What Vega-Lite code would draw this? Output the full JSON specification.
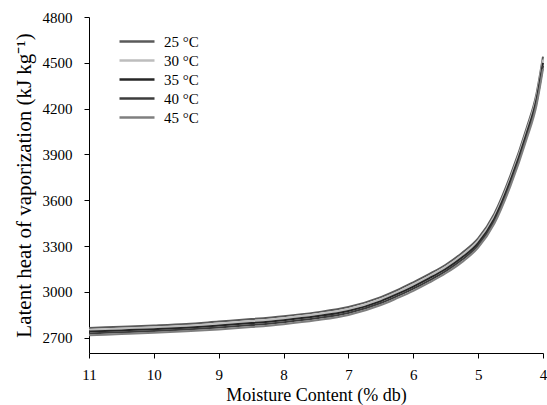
{
  "$schema": "https://vega.github.io/schema/vega-lite/v6.json",
  "width": 454,
  "height": 336,
  "autosize": "none",
  "padding": {"left": 89, "top": 17, "right": 4, "bottom": 52},
  "background": "white",
  "config": {
    "font": "Liberation Serif",
    "view": {"stroke": null},
    "axis": {"grid": false, "domainColor": "#000", "tickColor": "#000", "labelColor": "#000", "titleColor": "#000", "labelFont": "Liberation Serif", "titleFont": "Liberation Serif", "titleFontWeight": "normal", "labelFontSize": 15, "titleFontSize": 17}
  },
  "data": {"values": [
    {"m": 11, "T": "25 °C", "L": 2764}, {"m": 11, "T": "30 °C", "L": 2752}, {"m": 11, "T": "35 °C", "L": 2740}, {"m": 11, "T": "40 °C", "L": 2728}, {"m": 11, "T": "45 °C", "L": 2716},
    {"m": 10.5, "T": "25 °C", "L": 2772}, {"m": 10.5, "T": "30 °C", "L": 2760}, {"m": 10.5, "T": "35 °C", "L": 2748}, {"m": 10.5, "T": "40 °C", "L": 2736}, {"m": 10.5, "T": "45 °C", "L": 2724},
    {"m": 10, "T": "25 °C", "L": 2780}, {"m": 10, "T": "30 °C", "L": 2768}, {"m": 10, "T": "35 °C", "L": 2756}, {"m": 10, "T": "40 °C", "L": 2744}, {"m": 10, "T": "45 °C", "L": 2732},
    {"m": 9.5, "T": "25 °C", "L": 2790}, {"m": 9.5, "T": "30 °C", "L": 2778}, {"m": 9.5, "T": "35 °C", "L": 2766}, {"m": 9.5, "T": "40 °C", "L": 2754}, {"m": 9.5, "T": "45 °C", "L": 2742},
    {"m": 9, "T": "25 °C", "L": 2806}, {"m": 9, "T": "30 °C", "L": 2793}, {"m": 9, "T": "35 °C", "L": 2780}, {"m": 9, "T": "40 °C", "L": 2767}, {"m": 9, "T": "45 °C", "L": 2754},
    {"m": 8.5, "T": "25 °C", "L": 2822}, {"m": 8.5, "T": "30 °C", "L": 2809}, {"m": 8.5, "T": "35 °C", "L": 2796}, {"m": 8.5, "T": "40 °C", "L": 2783}, {"m": 8.5, "T": "45 °C", "L": 2770},
    {"m": 8, "T": "25 °C", "L": 2841}, {"m": 8, "T": "30 °C", "L": 2828}, {"m": 8, "T": "35 °C", "L": 2815}, {"m": 8, "T": "40 °C", "L": 2802}, {"m": 8, "T": "45 °C", "L": 2789},
    {"m": 7.5, "T": "25 °C", "L": 2866}, {"m": 7.5, "T": "30 °C", "L": 2853}, {"m": 7.5, "T": "35 °C", "L": 2840}, {"m": 7.5, "T": "40 °C", "L": 2827}, {"m": 7.5, "T": "45 °C", "L": 2814},
    {"m": 7, "T": "25 °C", "L": 2901}, {"m": 7, "T": "30 °C", "L": 2888}, {"m": 7, "T": "35 °C", "L": 2875}, {"m": 7, "T": "40 °C", "L": 2862}, {"m": 7, "T": "45 °C", "L": 2849},
    {"m": 6.5, "T": "25 °C", "L": 2966}, {"m": 6.5, "T": "30 °C", "L": 2953}, {"m": 6.5, "T": "35 °C", "L": 2940}, {"m": 6.5, "T": "40 °C", "L": 2927}, {"m": 6.5, "T": "45 °C", "L": 2914},
    {"m": 6.25, "T": "25 °C", "L": 3011}, {"m": 6.25, "T": "30 °C", "L": 2998}, {"m": 6.25, "T": "35 °C", "L": 2985}, {"m": 6.25, "T": "40 °C", "L": 2972}, {"m": 6.25, "T": "45 °C", "L": 2959},
    {"m": 6, "T": "25 °C", "L": 3063}, {"m": 6, "T": "30 °C", "L": 3049}, {"m": 6, "T": "35 °C", "L": 3035}, {"m": 6, "T": "40 °C", "L": 3021}, {"m": 6, "T": "45 °C", "L": 3007},
    {"m": 5.75, "T": "25 °C", "L": 3118}, {"m": 5.75, "T": "30 °C", "L": 3104}, {"m": 5.75, "T": "35 °C", "L": 3090}, {"m": 5.75, "T": "40 °C", "L": 3076}, {"m": 5.75, "T": "45 °C", "L": 3062},
    {"m": 5.5, "T": "25 °C", "L": 3178}, {"m": 5.5, "T": "30 °C", "L": 3164}, {"m": 5.5, "T": "35 °C", "L": 3150}, {"m": 5.5, "T": "40 °C", "L": 3136}, {"m": 5.5, "T": "45 °C", "L": 3122},
    {"m": 5.25, "T": "25 °C", "L": 3255}, {"m": 5.25, "T": "30 °C", "L": 3240}, {"m": 5.25, "T": "35 °C", "L": 3225}, {"m": 5.25, "T": "40 °C", "L": 3210}, {"m": 5.25, "T": "45 °C", "L": 3195},
    {"m": 5, "T": "25 °C", "L": 3350}, {"m": 5, "T": "30 °C", "L": 3335}, {"m": 5, "T": "35 °C", "L": 3320}, {"m": 5, "T": "40 °C", "L": 3305}, {"m": 5, "T": "45 °C", "L": 3290},
    {"m": 4.75, "T": "25 °C", "L": 3512}, {"m": 4.75, "T": "30 °C", "L": 3496}, {"m": 4.75, "T": "35 °C", "L": 3480}, {"m": 4.75, "T": "40 °C", "L": 3464}, {"m": 4.75, "T": "45 °C", "L": 3448},
    {"m": 4.5, "T": "25 °C", "L": 3764}, {"m": 4.5, "T": "30 °C", "L": 3747}, {"m": 4.5, "T": "35 °C", "L": 3730}, {"m": 4.5, "T": "40 °C", "L": 3713}, {"m": 4.5, "T": "45 °C", "L": 3696},
    {"m": 4.25, "T": "25 °C", "L": 4076}, {"m": 4.25, "T": "30 °C", "L": 4058}, {"m": 4.25, "T": "35 °C", "L": 4040}, {"m": 4.25, "T": "40 °C", "L": 4022}, {"m": 4.25, "T": "45 °C", "L": 4004},
    {"m": 4.1, "T": "25 °C", "L": 4298}, {"m": 4.1, "T": "30 °C", "L": 4279}, {"m": 4.1, "T": "35 °C", "L": 4260}, {"m": 4.1, "T": "40 °C", "L": 4241}, {"m": 4.1, "T": "45 °C", "L": 4222},
    {"m": 4, "T": "25 °C", "L": 4540}, {"m": 4, "T": "30 °C", "L": 4520}, {"m": 4, "T": "35 °C", "L": 4500}, {"m": 4, "T": "40 °C", "L": 4480}, {"m": 4, "T": "45 °C", "L": 4460}
  ]},
  "mark": {"type": "line", "interpolate": "monotone", "strokeWidth": 2},
  "encoding": {
    "x": {"field": "m", "type": "quantitative", "title": "Moisture Content (% db)",
      "scale": {"domain": [4, 11], "reverse": true, "nice": false, "zero": false},
      "axis": {"values": [4, 5, 6, 7, 8, 9, 10, 11], "format": "d", "tickSize": 5, "labelFont": "Liberation Serif", "labelFontSize": 15, "labelPadding": 9, "titleFont": "Liberation Serif", "titleFontSize": 18, "titlePadding": 4, "labelFlush": false}},
    "y": {"field": "L", "type": "quantitative", "title": "Latent heat of vaporization (kJ kg⁻¹)",
      "scale": {"domain": [2600, 4800], "nice": false, "zero": false},
      "axis": {"values": [2700, 3000, 3300, 3600, 3900, 4200, 4500, 4800], "format": "d", "tickSize": 5, "labelFont": "Liberation Serif", "labelFontSize": 15, "labelPadding": 12, "titleFont": "Liberation Serif", "titleFontSize": 21, "titlePadding": 8}},
    "color": {"field": "T", "type": "nominal",
      "scale": {"domain": ["25 °C", "30 °C", "35 °C", "40 °C", "45 °C"], "range": ["#5a5a5a", "#bdbdbd", "#262626", "#3c3c3c", "#7f7f7f"]},
      "legend": {"title": null, "orient": "none", "legendX": 29, "legendY": 17, "symbolType": "stroke", "symbolSize": 1225, "symbolStrokeWidth": 2.5, "labelFont": "Liberation Serif", "labelFontSize": 15, "labelColor": "#000", "rowPadding": 3, "clipHeight": 15, "labelOffset": 8}
    }
  }
}
